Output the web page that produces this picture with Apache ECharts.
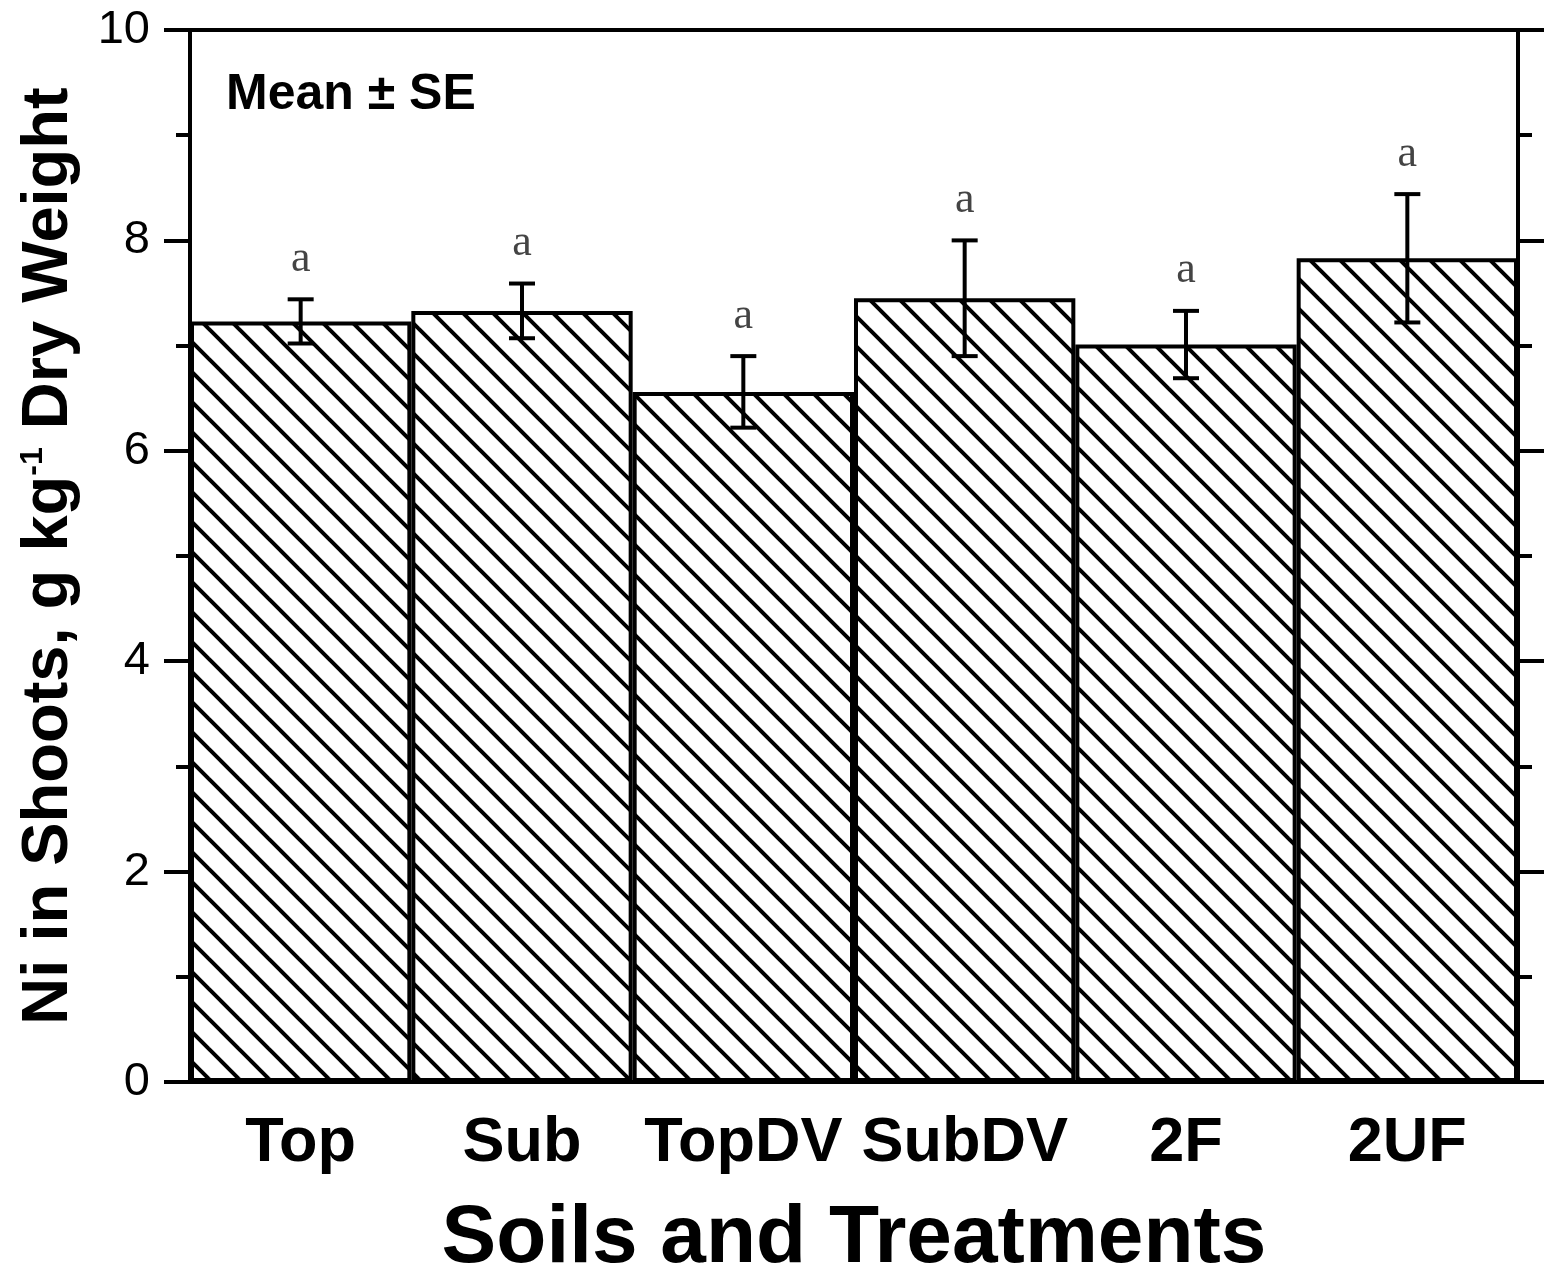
<!DOCTYPE html>
<html>
<head>
<meta charset="utf-8">
<script src="https://cdn.jsdelivr.net/npm/echarts@6/dist/echarts.min.js"></script>
<style>
  html, body { margin: 0; padding: 0; background: #fff; }
  #chart { width: 1546px; height: 1275px; }
</style>
</head>
<body>
<div id="chart"></div>
<script>
// data
var categories = ['Top', 'Sub', 'TopDV', 'SubDV', '2F', '2UF'];
var means = [7.23, 7.33, 6.56, 7.45, 7.01, 7.83];
var errors = [0.21, 0.26, 0.34, 0.55, 0.32, 0.61];
var letters = ['a', 'a', 'a', 'a', 'a', 'a'];

var FONT = '"Liberation Sans", Arial, sans-serif';

// diagonal hatch tile
function hatch() {
  var size = 30;
  var c = document.createElement('canvas');
  c.width = size; c.height = size;
  var ctx = c.getContext('2d');
  ctx.fillStyle = '#fff';
  ctx.fillRect(0, 0, size, size);
  ctx.strokeStyle = '#000';
  ctx.lineWidth = 4;
  [-size, 0, size].forEach(function (x0) {
    ctx.beginPath();
    ctx.moveTo(x0 - 2, -2);
    ctx.lineTo(x0 + size + 2, size + 2);
    ctx.stroke();
  });
  return c;
}

var errData = means.map(function (m, i) {
  return [i, m - errors[i], m + errors[i], letters[i]];
});

var chart = echarts.init(document.getElementById('chart'));

var yAxisBase = {
  type: 'value',
  min: 0,
  max: 10,
  interval: 2,
  axisLine: { show: true, lineStyle: { color: '#000', width: 4 } },
  axisTick: { show: true, inside: false, length: 26, lineStyle: { color: '#000', width: 4 } },
  minorTick: { show: true, splitNumber: 2, length: 14, lineStyle: { color: '#000', width: 4 } },
  splitLine: { show: false },
  minorSplitLine: { show: false }
};

chart.setOption({
  animation: false,
  backgroundColor: '#fff',
  grid: {
    left: 190, right: 28, top: 30, bottom: 193,
    outerBoundsMode: 'none',
    containLabel: false,
    show: true, borderColor: '#000', borderWidth: 4, backgroundColor: 'transparent'
  },
  xAxis: {
    type: 'category',
    data: categories,
    axisLine: { lineStyle: { color: '#000', width: 4 } },
    axisTick: { alignWithLabel: true, length: 25, lineStyle: { color: '#000', width: 4 } },
    axisLabel: { interval: 0, color: '#000', fontSize: 63, fontWeight: 'bold', fontFamily: FONT, margin: 30 },
    name: 'Soils and Treatments',
    nameLocation: 'middle',
    nameGap: 116,
    nameTextStyle: { color: '#000', fontSize: 82, fontWeight: 'bold', fontFamily: FONT }
  },
  yAxis: [
    Object.assign({}, yAxisBase, {
      position: 'left',
      axisLabel: { color: '#000', fontSize: 47, fontFamily: FONT, margin: 40 },
      name: 'Ni in Shoots, g kg{sup|-1} Dry Weight',
      nameLocation: 'middle',
      nameGap: 108,
      nameRotate: 90,
      nameTextStyle: {
        color: '#000', fontSize: 65, fontWeight: 'bold', fontFamily: FONT,
        rich: {
          sup: { fontSize: 32, fontWeight: 'bold', fontFamily: FONT, color: '#000', verticalAlign: 'top', padding: [0, 0, 30, 0] }
        }
      }
    }),
    Object.assign({}, yAxisBase, {
      position: 'right',
      axisLabel: { show: false }
    })
  ],
  graphic: [{
    type: 'text',
    left: 226,
    top: 70,
    style: { text: 'Mean \u00b1 SE', fill: '#000', font: 'bold 50px ' + FONT }
  }],
  series: [
    {
      type: 'bar',
      data: means,
      barCategoryGap: '0%',
      itemStyle: {
        color: { image: hatch(), repeat: 'repeat' },
        borderColor: '#000',
        borderWidth: 4
      },
      z: 2
    },
    {
      type: 'custom',
      data: errData,
      z: 5,
      renderItem: function (params, api) {
        var i = api.value(0);
        var lo = api.coord([i, api.value(1)]);
        var hi = api.coord([i, api.value(2)]);
        var w = 13;
        var st = { stroke: '#000', lineWidth: 4 };
        return {
          type: 'group',
          children: [
            { type: 'line', shape: { x1: hi[0], y1: hi[1], x2: lo[0], y2: lo[1] }, style: st },
            { type: 'line', shape: { x1: hi[0] - w, y1: hi[1], x2: hi[0] + w, y2: hi[1] }, style: st },
            { type: 'line', shape: { x1: lo[0] - w, y1: lo[1], x2: lo[0] + w, y2: lo[1] }, style: st },
            {
              type: 'text',
              x: hi[0], y: hi[1] - 40,
              style: {
                text: letters[params.dataIndex],
                fill: '#444',
                font: '44px "Liberation Serif", "Times New Roman", serif',
                align: 'center',
                verticalAlign: 'middle'
              }
            }
          ]
        };
      }
    }
  ]
});
</script>
</body>
</html>
